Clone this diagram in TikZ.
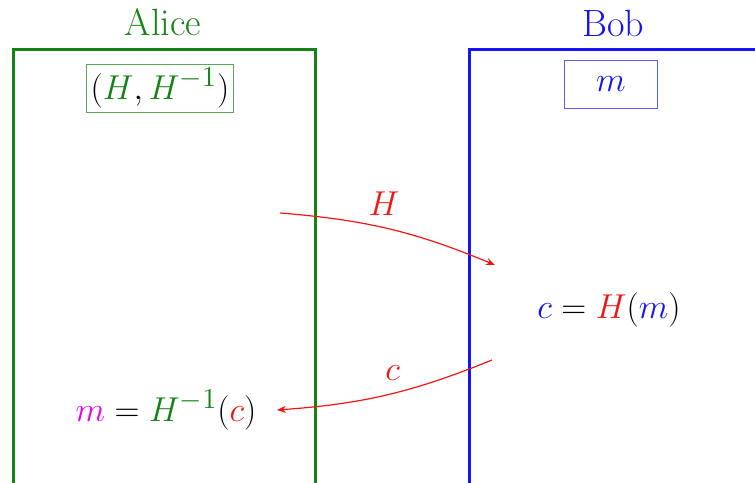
\documentclass[tikz,border=0pt]{standalone}
\usepackage{amsmath}
\definecolor{alicegreen}{RGB}{20, 130, 20}
\definecolor{bobblue}{RGB}{20, 20, 245}
\definecolor{msgred}{RGB}{245, 20, 20}
\definecolor{msgmagenta}{RGB}{235, 0, 235}
\usetikzlibrary{arrows.meta, positioning}
\tikzset{
	party/.style={font=\fontsize{19}{23}\selectfont, inner sep=0pt},
	partybox/.style={line width=1.5pt},
	keybox/.style={rectangle, draw, line width=0.5pt, inner sep=2pt, minimum height=24pt, font=\fontsize{19}{23}\selectfont},
	formula/.style={font=\fontsize{19}{23}\selectfont, inner sep=0pt},
	sendarrow/.style={-{Stealth[length=4.5pt, width=3.5pt]}, draw=msgred, line width=0.6pt},
	sendlabel/.style={font=\fontsize{19}{23}\selectfont, text=msgred, inner sep=0pt},
}

\begin{document}
\begin{tikzpicture}[x=0.5pt, y=-0.5pt]
		\useasboundingbox (0,0) rectangle (755,482);
		\clip (0,0) rectangle (755,482);
		\draw[partybox, draw=alicegreen] (13,520) |- (315,49) -- (315,520);
		\draw[partybox, draw=bobblue] (469,520) |- (800,49);
		\node[party, text=alicegreen] (alice) at (163,22) {Alice};
		\node[party, text=bobblue] (bob) at (613,23) {Bob};
		\node[keybox, draw=alicegreen!70] (keys) at (160,88) {$(\textcolor{alicegreen}{H},\textcolor{alicegreen}{H^{-1}})$};
		\node[keybox, draw=bobblue!70, minimum width=46.5pt] (msg) at (611,84) {$\textcolor{bobblue}{m}$};
		\node[formula] (enc) at (609,310) {$\textcolor{bobblue}{c}=\textcolor{msgred}{H}(\textcolor{bobblue}{m})$};
		\node[formula] (dec) at (166,410) {$\textcolor{msgmagenta}{m}=\textcolor{alicegreen}{H^{-1}}(\textcolor{msgred}{c})$};
		\coordinate (hstart) at (280,213);
		\coordinate (hend) at (495,265);
		\coordinate (cstart) at (492,360);
		\draw[sendarrow] (hstart) to[bend left=9] node[sendlabel, above=6pt, pos=0.47] {$H$} (hend);
		\draw[sendarrow] (cstart) to[bend left=9] node[sendlabel, above=6pt, pos=0.47] {$c$} ([xshift=10pt]dec.east);
	\end{tikzpicture}
\end{document}
